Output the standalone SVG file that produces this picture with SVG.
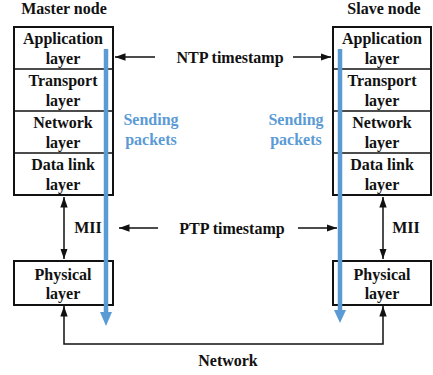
<svg xmlns="http://www.w3.org/2000/svg" width="433" height="375" viewBox="0 0 433 375">
<defs>
<style>
text{font-family:"Liberation Serif","Times New Roman",serif;font-weight:bold;font-size:16px;text-anchor:middle;fill:#111}
.blue{fill:#5b9bd5}
.box{fill:#fff;stroke:#111;stroke-width:2}
.ln{stroke:#111;stroke-width:1.5;fill:none}
.bl{stroke:#5b9bd5;stroke-width:4.5;fill:none}
</style>
<marker id="ah" viewBox="0 0 10 10" refX="10" refY="5" markerWidth="7" markerHeight="7" orient="auto-start-reverse"><path d="M0,1.5L10,5L0,8.5z" fill="#111"/></marker>
</defs>
<rect width="433" height="375" fill="#fff"/>
<text x="64" y="14">Master node</text>
<text x="384" y="14">Slave node</text>
<g id="master-stack">
<rect class="box" x="14" y="27" width="99" height="168"/>
<line class="ln" x1="14" y1="69" x2="113" y2="69" stroke-width="2"/>
<line class="ln" x1="14" y1="111" x2="113" y2="111" stroke-width="2"/>
<line class="ln" x1="14" y1="153" x2="113" y2="153" stroke-width="2"/>
<text x="63" y="44">Application</text><text x="63" y="64">layer</text>
<text x="63" y="86">Transport</text><text x="63" y="106">layer</text>
<text x="63" y="128">Network</text><text x="63" y="148">layer</text>
<text x="63" y="170">Data link</text><text x="63" y="190">layer</text>
</g>
<g id="slave-stack">
<rect class="box" x="333" y="27" width="98" height="168"/>
<line class="ln" x1="333" y1="69" x2="431" y2="69" stroke-width="2"/>
<line class="ln" x1="333" y1="111" x2="431" y2="111" stroke-width="2"/>
<line class="ln" x1="333" y1="153" x2="431" y2="153" stroke-width="2"/>
<text x="382" y="44">Application</text><text x="382" y="64">layer</text>
<text x="382" y="86">Transport</text><text x="382" y="106">layer</text>
<text x="382" y="128">Network</text><text x="382" y="148">layer</text>
<text x="382" y="170">Data link</text><text x="382" y="190">layer</text>
</g>
<g id="master-phy">
<rect class="box" x="14" y="261" width="99" height="44"/>
<text x="63" y="280">Physical</text><text x="63" y="299">layer</text>
</g>
<g id="slave-phy">
<rect class="box" x="333" y="261" width="98" height="44"/>
<text x="382" y="280">Physical</text><text x="382" y="299">layer</text>
</g>
<g id="connectors">
<line class="ln" x1="155" y1="57" x2="115" y2="57" marker-end="url(#ah)"/>
<line class="ln" x1="293" y1="57" x2="331" y2="57" marker-end="url(#ah)"/>
<line class="ln" x1="158" y1="228" x2="119" y2="228" marker-end="url(#ah)"/>
<line class="ln" x1="298" y1="228" x2="337" y2="228" marker-end="url(#ah)"/>
<line class="ln" x1="64" y1="197" x2="64" y2="259" marker-start="url(#ah)" marker-end="url(#ah)"/>
<line class="ln" x1="383" y1="197" x2="383" y2="259" marker-start="url(#ah)" marker-end="url(#ah)"/>
<path class="ln" d="M383,306V344H64V306" marker-start="url(#ah)" marker-end="url(#ah)" stroke-width="2"/>
<line class="bl" x1="106" y1="49" x2="106" y2="313"/>
<path class="blue" d="M100,312H112L106,326z"/>
<line class="bl" x1="340" y1="49" x2="340" y2="311"/>
<path class="blue" d="M334,310H346L340,323z"/>
</g>
<text x="230" y="63">NTP timestamp</text>
<text x="232" y="234">PTP timestamp</text>
<text x="88" y="233">MII</text>
<text x="406" y="233">MII</text>
<text x="228" y="366">Network</text>
<text class="blue" x="151" y="125">Sending</text><text class="blue" x="151" y="145">packets</text>
<text class="blue" x="296" y="125">Sending</text><text class="blue" x="296" y="145">packets</text>
</svg>
